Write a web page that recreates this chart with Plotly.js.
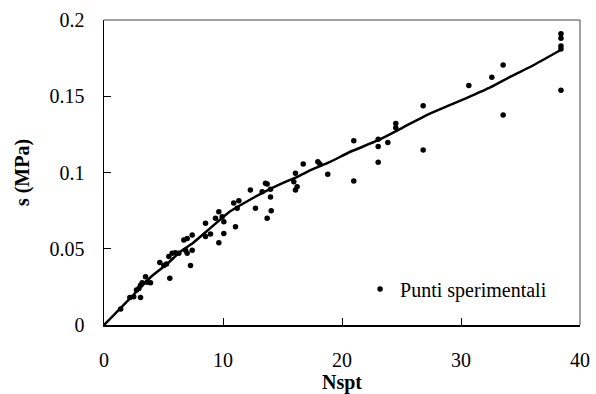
<!DOCTYPE html>
<html>
<head>
<meta charset="utf-8">
<script src="https://cdn.plot.ly/plotly-3.0.1.min.js"></script>
<style>html,body{margin:0;padding:0;background:#fff}#chart{width:596px;height:394px}</style>
</head>
<body>
<div id="chart"></div>
<script>
// Experimental points (Nspt, s in MPa)
const expN = [1.4, 2.17, 2.5, 3.07, 2.73, 2.93, 3.07, 3.21, 3.49, 3.63, 3.91, 4.69, 5.03, 5.25, 5.53,
  5.45, 5.73, 6.0, 6.29, 6.85, 6.99, 7.27, 6.71, 6.99, 7.41, 7.41, 8.53, 8.53, 8.95, 9.65,
  9.37, 9.65, 9.93, 10.07, 10.07, 11.05, 10.9, 11.33, 11.19, 12.3, 12.73, 13.29, 13.57, 13.71,
  13.99, 13.99, 14.05, 13.71, 16.09, 15.95, 16.23, 16.09, 16.74, 17.97, 18.14, 18.8,
  20.99, 20.99, 23.04, 23.04, 23.04, 23.85, 24.52, 24.52, 26.82, 26.82,
  30.66, 32.59, 33.54, 33.54, 38.4, 38.4, 38.4, 38.4, 38.4];
const expS = [0.0105, 0.018, 0.0186, 0.018, 0.023, 0.024, 0.026, 0.0277, 0.0317, 0.028, 0.0277, 0.041, 0.039, 0.040, 0.0306,
  0.045, 0.047, 0.0474, 0.047, 0.049, 0.047, 0.039, 0.0557, 0.0568, 0.059, 0.049, 0.0667, 0.058, 0.0597, 0.054,
  0.070, 0.0743, 0.071, 0.0677, 0.060, 0.0645, 0.080, 0.0815, 0.0765, 0.0885, 0.0765, 0.0874, 0.093, 0.0925,
  0.089, 0.084, 0.075, 0.070, 0.0995, 0.094, 0.0907, 0.0885, 0.1056, 0.107, 0.1056, 0.0988,
  0.1209, 0.0944, 0.1218, 0.117, 0.1067, 0.1196, 0.1322, 0.1294, 0.1438, 0.1148,
  0.157, 0.1624, 0.1705, 0.1377, 0.191, 0.188, 0.183, 0.181, 0.154];

// Fitted curve
const curveN = [0, 1, 2.5, 4, 5.3, 6.4, 7.5, 9, 10.5, 12, 13.4, 15, 16.2, 17.5, 19, 20.7, 23, 25, 27.2, 29, 30.5, 32.5, 34.2, 36, 38.3];
const curveS = [0, 0.008, 0.020, 0.032, 0.040, 0.048, 0.054, 0.064, 0.074, 0.081, 0.087, 0.093, 0.097, 0.102, 0.107, 0.1136, 0.121, 0.129, 0.138, 0.144, 0.149, 0.156, 0.163, 0.170, 0.180];

const xTicks = [0, 10, 20, 30, 40];
const yTicks = [0, 0.05, 0.1, 0.15, 0.2];
const yTickText = ['0', '0.05', '0.1', '0.15', '0.2'];

const font = '"Times New Roman", "Liberation Serif", "DejaVu Serif", serif';

const traces = [
  {x: curveN, y: curveS, mode: 'lines', line: {color: '#000', width: 2.5, shape: 'spline', smoothing: 0.6},
   showlegend: false, hoverinfo: 'skip'},
  {x: expN, y: expS, mode: 'markers', name: 'Punti sperimentali',
   marker: {color: '#000', size: 5.5}}
];

const layout = {
  width: 596, height: 394,
  margin: {l: 103.5, r: 15.5, t: 20, b: 69},
  paper_bgcolor: '#fff', plot_bgcolor: '#fff',
  font: {family: font, size: 20, color: '#000'},
  xaxis: {
    range: [0, 40], tickvals: xTicks, ticktext: xTicks.map(String),
    showgrid: false, zeroline: false, showline: true, linecolor: '#000', linewidth: 1.5,
    ticks: 'inside', ticklen: 7, tickcolor: '#000', tickwidth: 1,
    ticklabelstandoff: 16,
    tickfont: {family: font, size: 20},
    title: {text: '<b>Nspt</b>', font: {family: font, size: 20}, standoff: 4},
    automargin: false
  },
  yaxis: {
    range: [0, 0.2], tickvals: yTicks, ticktext: yTickText,
    showgrid: false, zeroline: false, showline: true, linecolor: '#000', linewidth: 1.5,
    ticks: 'inside', ticklen: 7, tickcolor: '#000', tickwidth: 1,
    ticklabelstandoff: 14,
    tickfont: {family: font, size: 20},
    title: {text: '<b>s (MPa)</b>', font: {family: font, size: 20}, standoff: 14},
    automargin: false
  },
  shapes: [
    {type: 'line', xref: 'paper', yref: 'paper', x0: 0, x1: 1, y0: 1, y1: 1, line: {color: '#808080', width: 1.5}},
    {type: 'line', xref: 'paper', yref: 'paper', x0: 1, x1: 1, y0: 0, y1: 1, line: {color: '#808080', width: 1.5}}
  ],
  showlegend: true,
  legend: {x: 0.538, y: 0.118, xanchor: 'left', yanchor: 'middle', bgcolor: 'rgba(0,0,0,0)',
    font: {family: font, size: 20}, itemwidth: 30, tracegroupgap: 0}
};

Plotly.newPlot('chart', traces, layout, {staticPlot: true, displayModeBar: false});
</script>
</body>
</html>
